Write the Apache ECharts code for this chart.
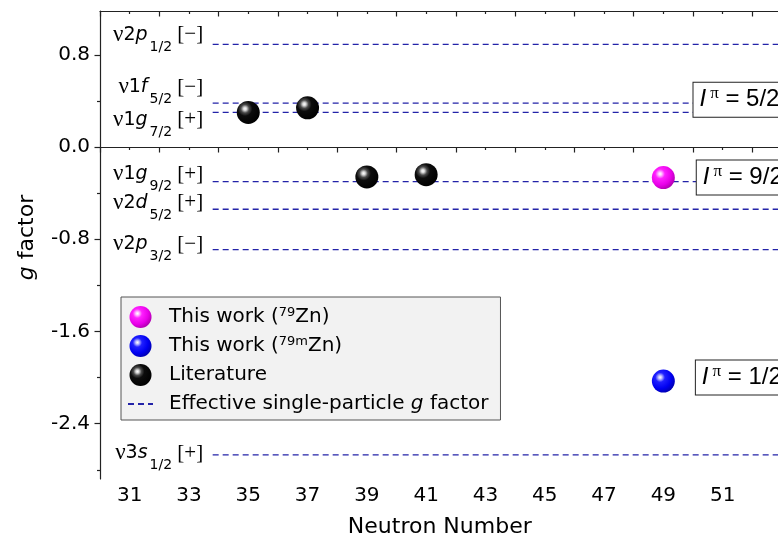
<!DOCTYPE html>
<html>
<head>
<meta charset="utf-8">
<script src="https://cdn.jsdelivr.net/npm/echarts@6/dist/echarts.min.js"></script>
<style>
  html, body { margin: 0; padding: 0; background: #fff; }
  #chart { width: 778px; height: 539px; }
</style>
</head>
<body>
<div id="chart"></div>
<script>
// Effective single-particle g factors of the neutron orbitals
const levelN = ['2', '1', '1', '1', '2', '2', '3'];
const levelL = ['p', 'f', 'g', 'g', 'd', 'p', 's'];
const levelJ = ['1/2', '5/2', '7/2', '9/2', '5/2', '3/2', '1/2'];
const levelParity = ['−', '−', '+', '+', '+', '−', '+'];
const levelG = [0.89, 0.38, 0.30, -0.30, -0.54, -0.89, -2.67];
const levelSpanN = [33.8, 54];

// Measured g factors
const litN = [35, 37, 39, 41];
const litG = [0.30, 0.34, -0.26, -0.24];
const zn79N = [49];
const zn79G = [-0.265];
const zn79mN = [49];
const zn79mG = [-2.03];

// Spin-parity tags
const spinValue = ['5/2', '9/2', '1/2'];
const spinParity = ['−', '+', '+'];
const spinN = [50.0, 50.11, 50.08];
const spinG = [0.41, -0.265, -2.0];

// Axis ticks
const xLabelValues = [31, 33, 35, 37, 39, 41, 43, 45, 47, 49, 51];
const yLabelValues = [0.8, 0.0, -0.8, -1.6, -2.4];
const yMinorValues = [0.4, -0.4, -1.2, -2.0, -2.8];

// Vertical nudges of the orbital labels (px)
const levelLabelDy = [-9.5, -16, 7.5, -7.5, -6.5, -5.5, -1.5];

const SANS = 'DejaVu Sans';
const ARIAL = 'Liberation Sans';
const SERIF = 'Liberation Serif';
const AXIS_COLOR = '#222';
const LINE_COLOR = '#2323a8';
const CLEAR = 'rgba(0,0,0,0)';

const NAME_79 = 'This work (79Zn)';
const NAME_79M = 'This work (79mZn)';
const NAME_LIT = 'Literature';
const NAME_SP = 'Effective single-particle g factor';

const legendText = {};
legendText[NAME_79] = 'This work ({sup|79}Zn)';
legendText[NAME_79M] = 'This work ({sup|79m}Zn)';
legendText[NAME_LIT] = 'Literature';
legendText[NAME_SP] = 'Effective single-particle {i|g} factor';

function ball(stops) {
  return {
    type: 'radial', x: 0.36, y: 0.34, r: 0.7,
    colorStops: stops.map(s => ({ offset: s[0], color: s[1] }))
  };
}
const blackBall = ball([[0, '#ffffff'], [0.1, '#d8d8d8'], [0.26, '#4a4a4a'], [0.45, '#0c0c0c'], [1, '#000000']]);
const pinkBall = ball([[0, '#ffffff'], [0.1, '#ffc8ff'], [0.3, '#ff20ff'], [0.7, '#e800e8'], [1, '#b000b0']]);
const blueBall = ball([[0, '#ffffff'], [0.1, '#c8c8ff'], [0.3, '#2020ff'], [0.7, '#0000f0'], [1, '#0000b0']]);

const xMin = 30, xMax = 54, yMin = -2.88, yMax = 1.18;

const series = [];

levelG.forEach(g => {
  series.push({
    type: 'line',
    name: NAME_SP,
    data: [[levelSpanN[0], g], [levelSpanN[1], g]],
    symbol: 'none',
    silent: true,
    z: 2,
    lineStyle: { color: LINE_COLOR, width: 1.3, type: [6, 4], opacity: 1 },
    itemStyle: { color: CLEAR, borderWidth: 0 }
  });
});

series.push({
  type: 'scatter',
  name: 'orbitalLabels',
  data: levelG.map((g, i) => ({
    value: [levelSpanN[0], g],
    label: { offset: [0, levelLabelDy[i]] }
  })),
  symbolSize: 1,
  itemStyle: { color: CLEAR, opacity: 1 },
  silent: true,
  z: 4,
  label: {
    show: true,
    position: 'left',
    distance: 9,
    color: '#000',
    formatter: p => {
      const i = p.dataIndex;
      return '{nu|ν}{d|' + levelN[i] + '}{l|' + levelL[i] + '}{s|' + levelJ[i] + '}{b| [' + levelParity[i] + ']}';
    },
    rich: {
      nu: { fontFamily: SERIF, fontSize: 23, lineHeight: 39, color: '#000' },
      d: { fontFamily: SANS, fontSize: 19, lineHeight: 39, color: '#000' },
      l: { fontFamily: SANS, fontStyle: 'italic', fontSize: 19, lineHeight: 39, color: '#000', padding: [0, 2, 0, 0] },
      s: { fontFamily: SANS, fontSize: 14, lineHeight: 14, verticalAlign: 'bottom', color: '#000' },
      b: { fontFamily: SERIF, fontSize: 21, lineHeight: 39, color: '#000' }
    }
  }
});

series.push({
  type: 'scatter', name: NAME_79, data: zn79N.map((n, i) => [n, zn79G[i]]),
  symbol: 'circle', symbolSize: 23, z: 6, silent: true,
  itemStyle: { color: pinkBall, opacity: 1 }
});
series.push({
  type: 'scatter', name: NAME_79M, data: zn79mN.map((n, i) => [n, zn79mG[i]]),
  symbol: 'circle', symbolSize: 23, z: 6, silent: true,
  itemStyle: { color: blueBall, opacity: 1 }
});
series.push({
  type: 'scatter', name: NAME_LIT, data: litN.map((n, i) => [n, litG[i]]),
  symbol: 'circle', symbolSize: 23, z: 6, silent: true,
  itemStyle: { color: blackBall, opacity: 1 }
});

series.push({
  type: 'scatter',
  name: 'spinTags',
  data: spinN.map((n, i) => [n, spinG[i]]),
  symbolSize: 1,
  itemStyle: { color: CLEAR, opacity: 1 },
  silent: true,
  z: 10,
  label: {
    show: true,
    position: 'right',
    distance: 0,
    color: '#000',
    backgroundColor: '#fff',
    borderColor: '#222',
    borderWidth: 1,
    padding: [2, 6, 2, 6],
    formatter: p => {
      const i = p.dataIndex;
      return '{i|I}{sup|π}{t| = ' + spinValue[i] + '}{sup2|' + spinParity[i] + '}';
    },
    rich: {
      i: { fontFamily: ARIAL, fontStyle: 'italic', fontSize: 24, lineHeight: 30, color: '#000' },
      sup: { fontFamily: SERIF, fontSize: 17, lineHeight: 16, verticalAlign: 'top', color: '#000', padding: [0, 0, 0, 4] },
      t: { fontFamily: ARIAL, fontSize: 24, lineHeight: 30, color: '#000' },
      sup2: { fontFamily: ARIAL, fontSize: 16, lineHeight: 16, verticalAlign: 'top', color: '#000' }
    }
  }
});

const gridBox = { left: 100, top: 11, width: 711.6, height: 468, containLabel: false, outerBoundsMode: 'none' };

const option = {
  animation: false,
  backgroundColor: '#fff',
  textStyle: { fontFamily: SANS },
  grid: [Object.assign({}, gridBox), Object.assign({}, gridBox)],
  legend: {
    orient: 'vertical',
    left: 121,
    top: 297,
    padding: [9, 12, 5, 6],
    itemGap: 7,
    itemWidth: 25,
    itemHeight: 22,
    selectedMode: false,
    backgroundColor: '#f2f2f2',
    borderColor: '#555',
    borderWidth: 1,
    borderRadius: 0,
    data: [NAME_79, NAME_79M, NAME_LIT, NAME_SP],
    formatter: name => legendText[name],
    textStyle: {
      fontFamily: SANS, fontSize: 20, color: '#000', lineHeight: 22,
      padding: [0, 0, 0, 11],
      rich: {
        sup: { fontFamily: SANS, fontSize: 13, lineHeight: 17, verticalAlign: 'top', color: '#000' },
        i: { fontFamily: SANS, fontStyle: 'italic', fontSize: 20, lineHeight: 22, color: '#000' }
      }
    }
  },
  xAxis: [
    {
      type: 'value', gridIndex: 0, position: 'bottom',
      min: xMin, max: xMax, interval: 2,
      name: 'Neutron Number', nameLocation: 'middle', nameGap: 35,
      nameTextStyle: { fontFamily: SANS, fontSize: 22, color: '#000', lineHeight: 26, padding: [0, 32, 0, 0] },
      axisLine: { show: true, lineStyle: { color: AXIS_COLOR, width: 1.2 } },
      axisTick: { show: true, length: 5.5, lineStyle: { color: AXIS_COLOR, width: 1.2 } },
      minorTick: { show: true, splitNumber: 2, length: 3, lineStyle: { color: AXIS_COLOR, width: 1.2 } },
      axisLabel: {
        show: true, customValues: xLabelValues, margin: 7,
        fontFamily: SANS, fontSize: 20, color: '#000',
        formatter: v => String(v)
      },
      splitLine: { show: false },
      minorSplitLine: { show: false }
    },
    {
      type: 'value', gridIndex: 0, position: 'top',
      min: xMin, max: xMax, interval: 2,
      axisLine: { show: true, lineStyle: { color: AXIS_COLOR, width: 1.2 } },
      axisTick: { show: true, inside: true, length: 5.5, lineStyle: { color: AXIS_COLOR, width: 1.2 } },
      minorTick: { show: true, splitNumber: 2, length: 3, lineStyle: { color: AXIS_COLOR, width: 1.2 } },
      axisLabel: { show: false },
      splitLine: { show: false }
    },
    {
      type: 'value', gridIndex: 1, min: xMin, max: xMax, show: false
    }
  ],
  yAxis: [
    {
      type: 'value', gridIndex: 0, position: 'left',
      min: yMin, max: yMax,
      name: '{i|g} factor', nameLocation: 'middle', nameGap: 49,
      nameTextStyle: {
        fontFamily: SANS, fontSize: 22, color: '#000', lineHeight: 26, padding: [0, 0, 0, 15],
        rich: { i: { fontFamily: SANS, fontStyle: 'italic', fontSize: 22, lineHeight: 26, color: '#000' } }
      },
      axisLine: { show: true, lineStyle: { color: AXIS_COLOR, width: 1.2 } },
      axisTick: { show: true, customValues: yLabelValues, length: 5.5, lineStyle: { color: AXIS_COLOR, width: 1.2 } },
      axisLabel: {
        show: true, customValues: yLabelValues, margin: 10,
        fontFamily: SANS, fontSize: 20, color: '#000',
        formatter: v => v.toFixed(1)
      },
      splitLine: { show: false }
    },
    {
      type: 'value', gridIndex: 1, position: 'left',
      min: yMin, max: yMax,
      axisLine: { show: false },
      axisTick: { show: true, customValues: yMinorValues, length: 3, lineStyle: { color: AXIS_COLOR, width: 1.2 } },
      axisLabel: { show: false },
      splitLine: { show: false }
    }
  ],
  series: series
};

const chart = echarts.init(document.getElementById('chart'));
chart.setOption(option);
</script>
</body>
</html>
